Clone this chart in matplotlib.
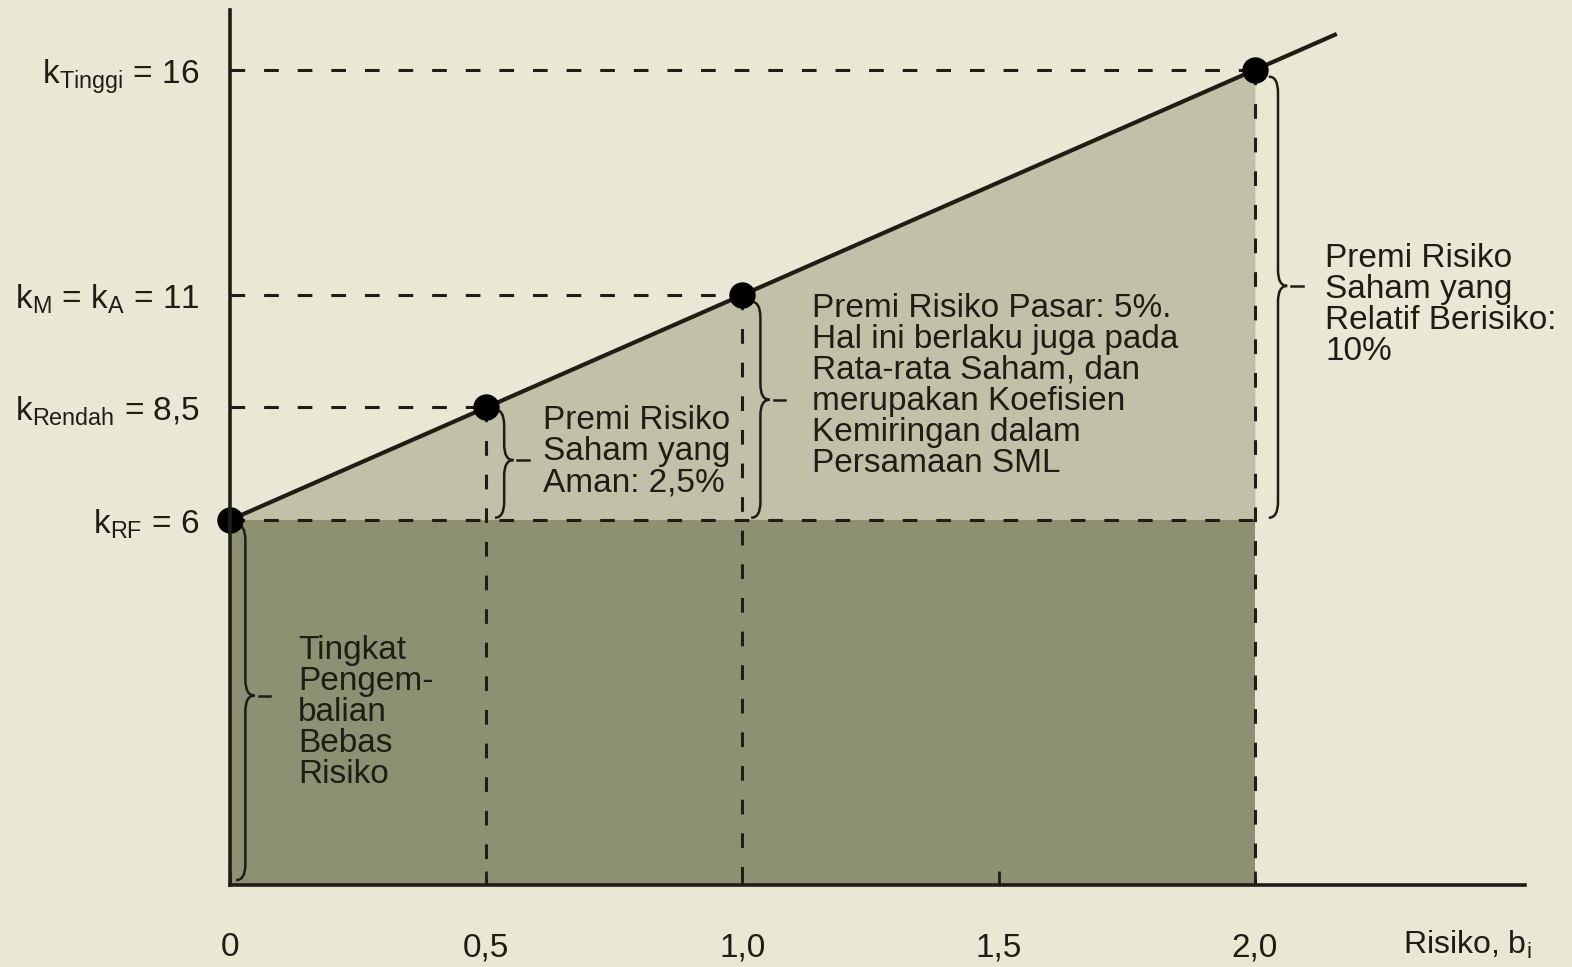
import numpy as np
import matplotlib
matplotlib.use("Agg")
from matplotlib import pyplot as plt
from matplotlib.path import Path
from matplotlib.patches import PathPatch

plt.rcParams["font.family"] = ["Liberation Sans", "DejaVu Sans"]
plt.rcParams["mathtext.fontset"] = "custom"
plt.rcParams["mathtext.rm"] = "Liberation Sans"

# SML data: k = k_RF + (k_M - k_RF) * b
k_rf = 6
k_m = 11
betas = [0.5, 1.0, 2.0]
returns = [8.5, 11, 16]
x_ticks = [0, 0.5, 1.0, 1.5, 2.0]
x_labels = ["0", "0,5", "1,0", "1,5", "2,0"]
y_ticks = [6, 8.5, 11, 16]
y_labels = [r"k$_{\mathregular{RF}}$ = 6",
            r"k$_{\mathregular{Rendah}}$ = 8,5",
            r"k$_{\mathregular{M}}$ = k$_{\mathregular{A}}$ = 11",
            r"k$_{\mathregular{Tinggi}}$ = 16"]

bg = "#eae8d4"
light = "#c2c1a7"
dark = "#8e9072"
ink = "#1e1e16"

W, H = 1572, 967
fig = plt.figure(figsize=(W / 100, H / 100), dpi=100, facecolor=bg)
ax = fig.add_axes([230 / W, (H - 885) / H, (1525 - 230) / W, 875 / H])
ax.set_facecolor(bg)
ymin, ymax = -2.11, 17.33
ax.set_xlim(0, 2.527)
ax.set_ylim(ymin, ymax)

slope = k_m - k_rf
bb = np.linspace(0, 2.0, 50)
ax.fill_between(bb, k_rf, k_rf + slope * bb, color=light, lw=0, zorder=1)
ax.fill_between([0, 2.0], ymin, k_rf, color=dark, lw=0, zorder=1)

bl = np.array([0, 2.156])
ax.plot(bl, k_rf + slope * bl, color=ink, lw=3, zorder=4)

dash = dict(color=ink, lw=2.2, dashes=(4.8, 6.2), zorder=3)
ax.plot([0, 2.0], [k_rf, k_rf], **dash)
for b, k in zip(betas, returns):
    ax.plot([0, b], [k, k], **dash)
    ax.plot([b, b], [k, ymin], **dash)

ax.plot([0] + betas, [k_rf] + returns, "o", color="black", ms=18, zorder=5,
        clip_on=False)


def brace(x, ytop, ybot, ytip, w=0.018, h=0.35):
    verts = [(x - w, ytop), (x, ytop), (x, ytop - h),
             (x, ytip + h), (x, ytip), (x + w, ytip),
             (x, ytip), (x, ytip - h),
             (x, ybot + h), (x, ybot), (x - w, ybot)]
    codes = [Path.MOVETO, Path.CURVE3, Path.CURVE3,
             Path.LINETO, Path.CURVE3, Path.CURVE3,
             Path.CURVE3, Path.CURVE3,
             Path.LINETO, Path.CURVE3, Path.CURVE3]
    ax.add_patch(PathPatch(Path(verts, codes), fc="none", ec=ink, lw=1.8, zorder=4))
    ax.plot([x + w + 0.008, x + w + 0.03], [ytip, ytip], color=ink, lw=1.8, zorder=4)


fs = 24
ls = 1.0
brace(0.03, 5.9, -2.0, 2.1)
ax.text(0.133, 3.45, "Tingkat\nPengem-\nbalian\nBebas\nRisiko", fontsize=fs,
        va="top", ha="left", linespacing=ls, color=ink, zorder=6)

brace(0.535, 8.45, 6.05, 7.33)
ax.text(0.61, 8.55, "Premi Risiko\nSaham yang\nAman: 2,5%", fontsize=fs,
        va="top", ha="left", linespacing=ls, color=ink, zorder=6)

brace(1.035, 10.85, 6.05, 8.67)
ax.text(1.136, 11.05, "Premi Risiko Pasar: 5%.\nHal ini berlaku juga pada\n"
        "Rata-rata Saham, dan\nmerupakan Koefisien\nKemiringan dalam\nPersamaan SML",
        fontsize=fs, va="top", ha="left", linespacing=ls, color=ink, zorder=6)

brace(2.045, 15.85, 6.05, 11.2)
ax.text(2.137, 12.15, "Premi Risiko\nSaham yang\nRelatif Berisiko:\n10%", fontsize=fs,
        va="top", ha="left", linespacing=ls, color=ink, zorder=6, clip_on=False)

for s in ["top", "right"]:
    ax.spines[s].set_visible(False)
for s in ["left", "bottom"]:
    ax.spines[s].set_linewidth(2.6)
    ax.spines[s].set_color(ink)
    ax.spines[s].set_zorder(6)

ax.set_xticks(x_ticks)
ax.set_xticklabels(x_labels, fontsize=fs, color=ink)
ax.tick_params(axis="x", direction="in", length=10, width=2, color=ink, pad=34)
ax.set_yticks(y_ticks)
ax.set_yticklabels(y_labels, fontsize=fs, color=ink)
ax.tick_params(axis="y", length=0, pad=22)

fig.text(1532 / W, 1 - 945 / H, r"Risiko, b$_{\mathregular{i}}$", fontsize=fs - 1,
         ha="right", va="center", color=ink)

fig.savefig("out.png", dpi=100, facecolor=bg)
